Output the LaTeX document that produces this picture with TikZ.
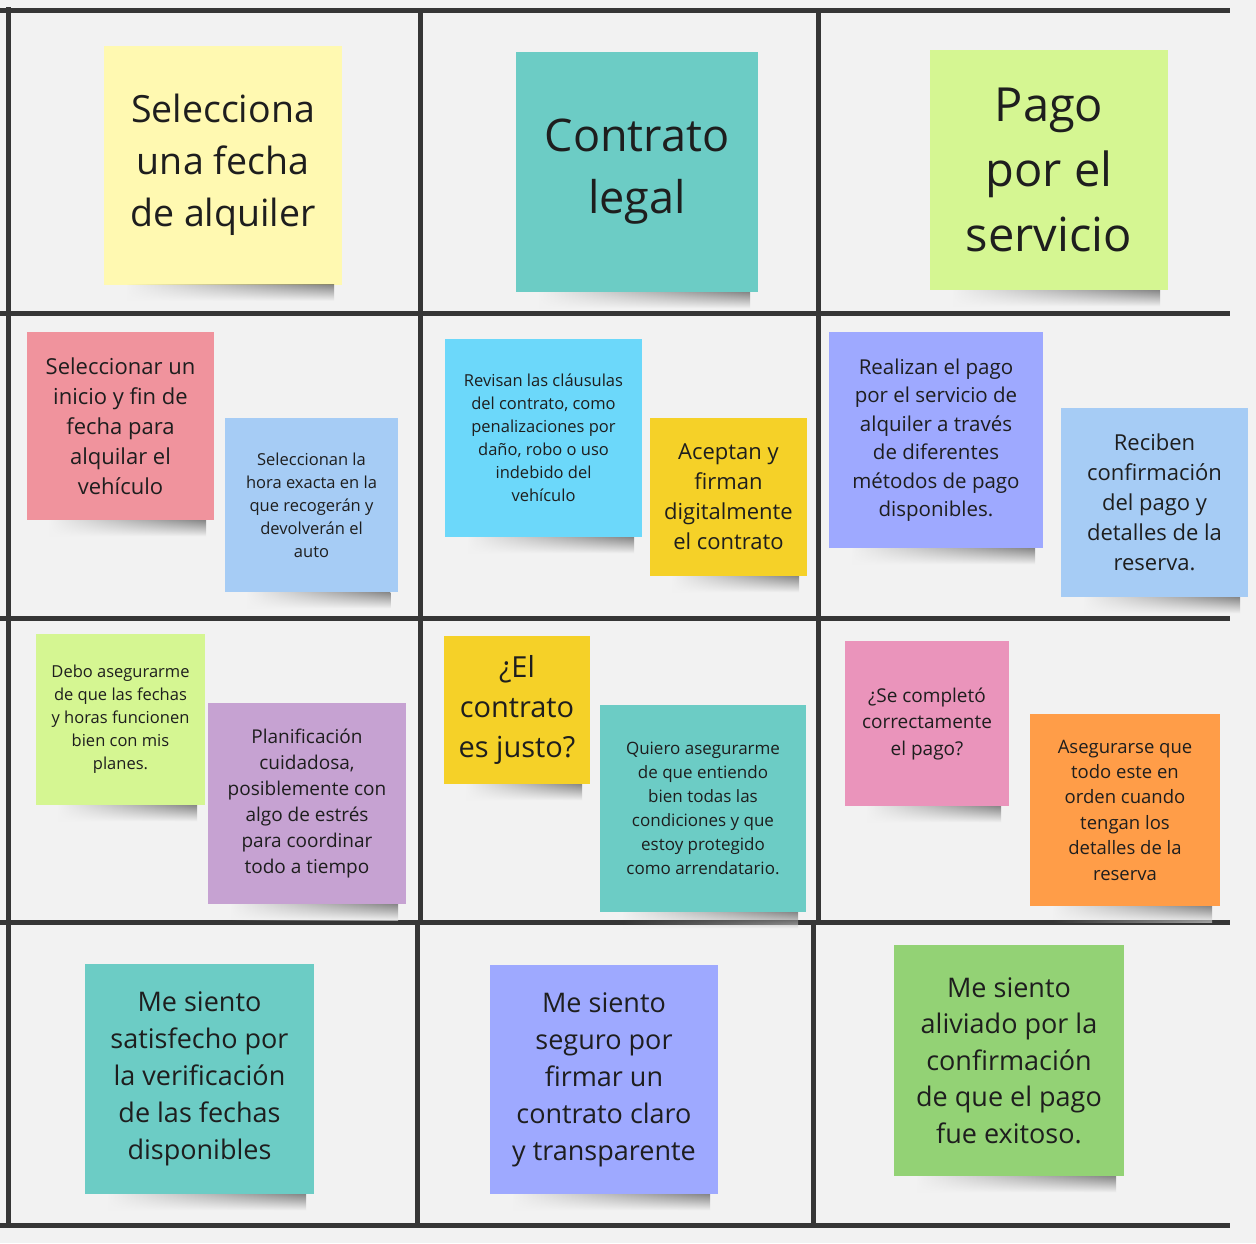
\documentclass[tikz,border=0pt]{standalone}
\usepackage{fontspec}
\setmainfont{Open Sans}
\usetikzlibrary{fadings}

\definecolor{boardbg}{HTML}{F2F2F2}
\definecolor{gridline}{HTML}{363636}
\definecolor{notetext}{HTML}{1E1E1E}
\definecolor{lyellow}{HTML}{FFF9B1}
\definecolor{cyan}{HTML}{6CCCC5}
\definecolor{lgreen}{HTML}{D5F692}
\definecolor{red}{HTML}{F0939D}
\definecolor{lblue}{HTML}{A6CCF5}
\definecolor{blue}{HTML}{6CD8FA}
\definecolor{yellow}{HTML}{F5D128}
\definecolor{dblue}{HTML}{9EA9FF}
\definecolor{violet}{HTML}{C6A2D2}
\definecolor{pink}{HTML}{EA94BB}
\definecolor{orange}{HTML}{FF9D48}
\definecolor{dgreen}{HTML}{93D275}

\tikzfading[name=fade sides, left color=transparent!100, middle color=transparent!0,
  right color=transparent!40]

\newcommand{\fs}[2]{\fontsize{#1}{#2}\selectfont}
% soft shadow under the bottom edge of a note
\newcommand{\noteshadow}[1]{%
  \shade[top color=black!75, bottom color=boardbg, path fading=fade sides]
    ([xshift=22pt]#1.south west) rectangle ([xshift=-8pt,yshift=-16pt]#1.south east);}

\begin{document}
\begin{tikzpicture}[x=1pt,y=-1pt,
  grid/.style={line width=5pt, draw=gridline},
  note/.style={rectangle, inner sep=0pt, align=center, text=notetext}]
  \useasboundingbox (0,0) rectangle (1256,1243);
  \fill[boardbg] (0,0) rectangle (1256,1243);

  % board grid
  \draw[grid] (0,10) -- (1230,10);
  \draw[grid] (0,313) -- (1230,313);
  \draw[grid] (0,618) -- (1230,618);
  \draw[grid] (0,922) -- (1230,922);
  \draw[grid] (0,1225) -- (1230,1225);
  \draw[grid] (8,7) -- (8,1228);
  \draw[grid] (420,10) -- (420,922);
  \draw[grid] (417,922) -- (417,1228);
  \draw[grid] (818,10) -- (818,922);
  \draw[grid] (813,922) -- (813,1225);

  % row 1
  \node[note, fill=lyellow, minimum width=238, minimum height=239, font=\fs{37.5}{52}]
    (sel) at (223,165) {Selecciona\\una fecha\\de alquiler};
  \node[note, fill=cyan, minimum width=242, minimum height=240, font=\fs{45}{62}]
    (con) at (637,172) {Contrato\\legal};
  \node[note, fill=lgreen, minimum width=238, minimum height=240, font=\fs{47}{65}]
    (pag) at (1049,170) {Pago\\por el\\servicio};
  \noteshadow{sel} \noteshadow{con} \noteshadow{pag}

  % row 2
  \node[note, fill=red, minimum width=187, minimum height=188, font=\fs{22}{30}]
    (inicio) at (120.5,426) {Seleccionar un\\inicio y fin de\\fecha para\\alquilar el\\vehículo};
  \node[note, fill=lblue, minimum width=173, minimum height=174, font=\fs{16.5}{23}]
    (hora) at (311.5,505) {Seleccionan la\\hora exacta en la\\que recogerán y\\devolverán el\\auto};
  \node[note, fill=blue, minimum width=197, minimum height=198, font=\fs{16.5}{23}]
    (clausulas) at (543.5,438) {Revisan las cláusulas\\del contrato, como\\penalizaciones por\\daño, robo o uso\\indebido del\\vehículo};
  \node[note, fill=yellow, minimum width=157, minimum height=158, font=\fs{22}{30}]
    (firman) at (728.5,497) {Aceptan y\\firman\\digitalmente\\el contrato};
  \node[note, fill=dblue, minimum width=214, minimum height=216, font=\fs{20.5}{28.5}]
    (realizan) at (936,440) {Realizan el pago\\por el servicio de\\alquiler a través\\de diferentes\\métodos de pago\\disponibles.};
  \node[note, fill=lblue, minimum width=187, minimum height=189, font=\fs{22}{30}]
    (reciben) at (1154.5,502.5) {Reciben\\confirmación\\del pago y\\detalles de la\\reserva.};
  \noteshadow{inicio} \noteshadow{hora} \noteshadow{clausulas}
  \noteshadow{firman} \noteshadow{realizan} \noteshadow{reciben}

  % row 3
  \node[note, fill=lgreen, minimum width=169, minimum height=171, font=\fs{16.5}{23}]
    (debo) at (120.5,719.5) {Debo asegurarme\\de que las fechas\\y horas funcionen\\bien con mis\\planes.};
  \node[note, fill=violet, minimum width=198, minimum height=201, font=\fs{19}{26}]
    (planif) at (307,803.5) {Planificación\\cuidadosa,\\posiblemente con\\algo de estrés\\para coordinar\\todo a tiempo};
  \node[note, fill=yellow, minimum width=146, minimum height=148, font=\fs{29}{40}]
    (justo) at (517,710) {¿El\\contrato\\es justo?};
  \node[note, fill=cyan, minimum width=206, minimum height=207, font=\fs{17}{24}]
    (quiero) at (703,808.5) {Quiero asegurarme\\de que entiendo\\bien todas las\\condiciones y que\\estoy protegido\\como arrendatario.};
  \node[note, fill=pink, minimum width=164, minimum height=165, font=\fs{19}{26.5}]
    (completo) at (927,723.5) {¿Se completó\\correctamente\\el pago?};
  \node[note, fill=orange, minimum width=190, minimum height=192, font=\fs{18.5}{25.4}]
    (orden) at (1125,810) {Asegurarse que\\todo este en\\orden cuando\\tengan los\\detalles de la\\reserva};
  \noteshadow{debo} \noteshadow{planif} \noteshadow{justo}
  \noteshadow{quiero} \noteshadow{completo} \noteshadow{orden}

  % row 4
  \node[note, fill=cyan, minimum width=229, minimum height=230, font=\fs{27}{37}]
    (satisf) at (199.5,1079) {Me siento\\satisfecho por\\la verificación\\de las fechas\\disponibles};
  \node[note, fill=dblue, minimum width=228, minimum height=229, font=\fs{27}{37}]
    (seguro) at (604,1079.5) {Me siento\\seguro por\\firmar un\\contrato claro\\y transparente};
  \node[note, fill=dgreen, minimum width=230, minimum height=231, font=\fs{27}{36.5}]
    (aliviado) at (1009,1060.5) {Me siento\\aliviado por la\\confirmación\\de que el pago\\fue exitoso.};
  \noteshadow{satisf} \noteshadow{seguro} \noteshadow{aliviado}
\end{tikzpicture}
\end{document}
